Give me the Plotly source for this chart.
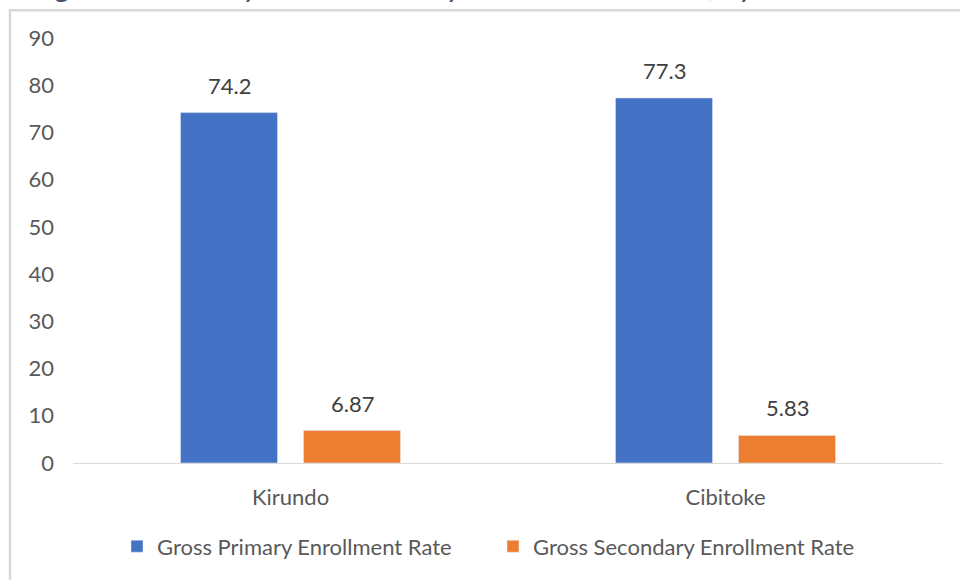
import plotly.graph_objects as go

categories = ["Kirundo", "Cibitoke"]
primary = [74.2, 77.3]
secondary = [6.87, 5.83]
primary_labels = ["74.2", "77.3"]
secondary_labels = ["6.87", "5.83"]
series_names = ["Gross Primary Enrollment Rate", "Gross Secondary Enrollment Rate"]
y_ticks = [0, 10, 20, 30, 40, 50, 60, 70, 80, 90]
title_text = "Figure 3: Primary and Secondary School Enrollment, by Province"

W, H = 960, 580
L, R, T, B = 73, 17, 38, 114
PW, PH = W - L - R, H - T - B

def px_x(p):
    return (p - L) / PW

def px_y(p):
    return (H - B - p) / PH

FONT = "Lato"
BLUE = "#4472C4"
ORANGE = "#ED7D31"

fig = go.Figure()
fig.add_trace(go.Bar(x=categories, y=primary, name=series_names[0], marker_color=BLUE,
                     text=primary_labels, textposition="none"))
fig.add_trace(go.Bar(x=categories, y=secondary, name=series_names[1], marker_color=ORANGE,
                     text=secondary_labels, textposition="none"))

# data labels
for vals, labs, shift in [(primary, primary_labels, -61.5), (secondary, secondary_labels, 61.5)]:
    for c, v, t in zip(categories, vals, labs):
        fig.add_annotation(x=c, y=v, text=t, showarrow=False, xshift=shift, yshift=12,
                           yanchor="bottom", font=dict(family=FONT, size=22, color="#404040"))

# cropped caption at the top
fig.add_annotation(xref="paper", yref="paper", x=px_x(30), y=px_y(4.5), xanchor="left", yanchor="bottom",
                   text=title_text, showarrow=False,
                   font=dict(family=FONT, size=32, color="#44546A", style="italic"))

# chart frame
fig.add_shape(type="rect", xref="paper", yref="paper",
              x0=px_x(10), x1=px_x(975), y0=px_y(10), y1=px_y(600),
              line=dict(color="#D9D9D9", width=2.5), fillcolor="rgba(0,0,0,0)", layer="below")

fig.update_layout(
    width=W, height=H,
    margin=dict(l=L, r=R, t=T, b=B, pad=0),
    paper_bgcolor="white", plot_bgcolor="white",
    barmode="group", bargap=0.4345, bargroupgap=0.2114,
    font=dict(family=FONT, size=22, color="#595959"),
    showlegend=True,
    legend=dict(orientation="h", xanchor="left", x=px_x(117), yanchor="middle", y=px_y(550),
                font=dict(family=FONT, size=22, color="#595959"),
                entrywidth=331, entrywidthmode="pixels", bgcolor="rgba(0,0,0,0)"),
    xaxis=dict(showline=True, linecolor="#D9D9D9", linewidth=1, showgrid=False, zeroline=False,
               ticks="", ticklabelstandoff=15, tickfont=dict(size=22, color="#595959")),
    yaxis=dict(range=[0, 90], tickvals=y_ticks, showline=False, showgrid=False, zeroline=False,
               ticks="", ticklabelstandoff=18, tickfont=dict(size=22, color="#595959")),
)

fig.write_html("out.html")
